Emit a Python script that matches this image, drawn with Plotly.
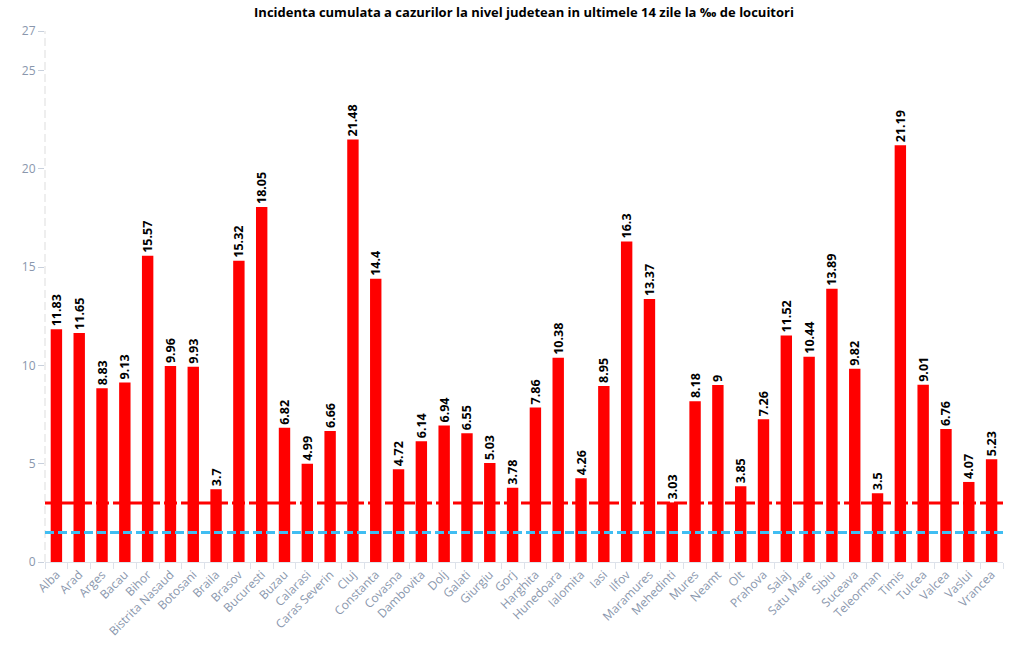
import plotly.graph_objects as go

judete = ["Alba", "Arad", "Arges", "Bacau", "Bihor", "Bistrita Nasaud", "Botosani", "Braila",
          "Brasov", "Bucuresti", "Buzau", "Calarasi", "Caras Severin", "Cluj", "Constanta",
          "Covasna", "Dambovita", "Dolj", "Galati", "Giurgiu", "Gorj", "Harghita", "Hunedoara",
          "Ialomita", "Iasi", "Ilfov", "Maramures", "Mehedinti", "Mures", "Neamt", "Olt",
          "Prahova", "Salaj", "Satu Mare", "Sibiu", "Suceava", "Teleorman", "Timis", "Tulcea",
          "Valcea", "Vaslui", "Vrancea"]
incidenta = [11.83, 11.65, 8.83, 9.13, 15.57, 9.96, 9.93, 3.7, 15.32, 18.05, 6.82, 4.99, 6.66,
             21.48, 14.4, 4.72, 6.14, 6.94, 6.55, 5.03, 3.78, 7.86, 10.38, 4.26, 8.95, 16.3,
             13.37, 3.03, 8.18, 9, 3.85, 7.26, 11.52, 10.44, 13.89, 9.82, 3.5, 21.19, 9.01,
             6.76, 4.07, 5.23]
prag_rosu = 3
prag_albastru = 1.5
y_ticks = [0, 5, 10, 15, 20, 25, 27]

fig = go.Figure()
fig.add_trace(go.Bar(
    x=judete, y=incidenta,
    marker=dict(color="#ff0000", line=dict(color="#ff0000", width=0)),
    text=[f"{v:g}" for v in incidenta],
    textposition="outside", textangle=-90,
    textfont=dict(family="Open Sans", size=12.5, color="#000000", weight="bold"),
    cliponaxis=False, constraintext="none",
))

fig.add_shape(type="line", xref="paper", x0=0, x1=1, yref="y", y0=prag_rosu, y1=prag_rosu,
              line=dict(color="#ff0000", width=3, dash="13px,4px"), layer="above")
fig.add_shape(type="line", xref="paper", x0=0, x1=1, yref="y", y0=prag_albastru, y1=prag_albastru,
              line=dict(color="#40bdf2", width=3, dash="9px,4px"), layer="above")
fig.add_shape(type="line", xref="paper", x0=0, x1=0, yref="y", y0=0, y1=27,
              line=dict(color="#dddddd", width=1, dash="8px,4px"), layer="below")

fig.update_layout(
    width=1015, height=646,
    margin=dict(l=45, r=12, t=31, b=84, autoexpand=False),
    paper_bgcolor="white", plot_bgcolor="white",
    font=dict(family="Open Sans", color="#8a97ad"),
    title=dict(text="<b>Incidenta cumulata a cazurilor la nivel judetean in ultimele 14 zile la ‰ de locuitori</b>",
               x=0.5, xanchor="center", xref="paper", y=1 - 12 / 646, yanchor="middle",
               font=dict(family="Open Sans", size=13, color="#000000")),
    bargap=0.5,
    showlegend=False,
    xaxis=dict(tickangle=-45, tickfont=dict(size=12, color="#8a97ad"), automargin=False,
               showline=True, linecolor="#dde2ea", linewidth=1,
               ticks="outside", ticklen=6, tickcolor="#dde2ea", tickson="boundaries",
               showgrid=False, zeroline=False),
    yaxis=dict(range=[0, 27], tickvals=y_ticks, tickfont=dict(size=12, color="#8a97ad"),
               automargin=False,
               ticks="outside", ticklen=6, tickcolor="#c8d0dc",
               showgrid=False, zeroline=False, showline=False),
)

fig.write_html("out.html", config={"displayModeBar": False},
               post_script="document.body.style.margin='0';")
